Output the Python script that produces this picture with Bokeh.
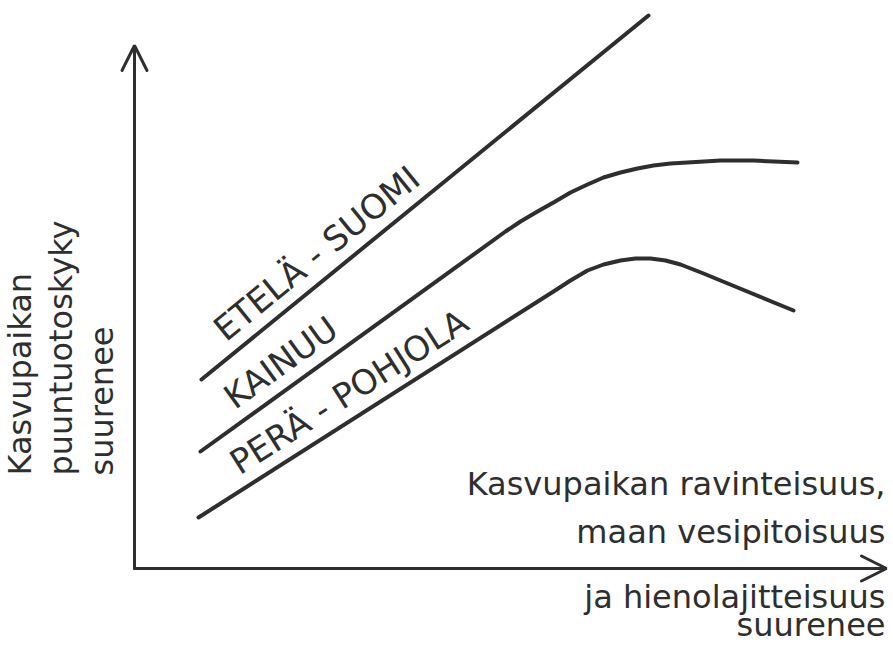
import math
from bokeh.plotting import figure
from bokeh.models import Range1d, Arrow, OpenHead
from bokeh.core.properties import value
from bokeh.embed import file_html
from bokeh.resources import INLINE

# ---- data (schematic units) ----
regions = ["ETELÄ - SUOMI", "KAINUU", "PERÄ - POHJOLA"]

etela_x = [67, 514]
etela_y = [189, 553]

kainuu_x = [66, 371, 386, 403, 419, 436, 453, 469, 486, 503, 519, 536, 553, 586, 619, 663]
kainuu_y = [117, 337, 347, 357, 366, 376, 384, 391, 396, 400, 403, 405, 406, 408, 408, 406]

pera_x = [64, 419, 436, 453, 469, 486, 501, 516, 531, 546, 569, 603, 659]
pera_y = [51, 277, 288, 298, 304, 308, 310, 310, 308, 304, 295, 281, 258]

y_title = ["Kasvupaikan", "puuntuotoskyky", "suurenee"]
x_title = ["Kasvupaikan ravinteisuus,", "maan vesipitoisuus",
           "ja hienolajitteisuus", "suurenee"]

# ---- style / layout ----
INK = "#2e2e2e"
FONT = "DejaVu Sans"
W, H = 893, 647
LBL_FS = 34
TTL_FS = 32
FIX = 0.42  # baseline correction of rendered text, in em


def up_shift(angle, fs):
    """shift of the anchor along the text's local 'up' direction"""
    d = FIX * fs
    return -math.sin(angle) * d, math.cos(angle) * d


p = figure(width=W, height=H, output_backend="svg", toolbar_location=None,
           x_range=Range1d(-134, 759), y_range=Range1d(-79, 568),
           x_axis_location=None, y_axis_location=None,
           min_border=0, outline_line_color=None, background_fill_color="white",
           border_fill_color="white")
p.grid.visible = False

# axes with open arrow heads
y_tip = 523
x_tip = 752
p.add_layout(Arrow(end=OpenHead(size=25, line_width=3, line_color=INK, line_cap="round"),
                   x_start=0, y_start=0, x_end=0, y_end=y_tip,
                   line_width=3, line_color=INK, line_cap="round"))
p.add_layout(Arrow(end=OpenHead(size=25, line_width=3, line_color=INK, line_cap="round"),
                   x_start=0, y_start=0, x_end=x_tip, y_end=0,
                   line_width=3, line_color=INK, line_cap="round"))

# curves
series = [(etela_x, etela_y), (kainuu_x, kainuu_y), (pera_x, pera_y)]
for xs, ys in series:
    p.line(xs, ys, line_width=4, line_color=INK, line_cap="round", line_join="round")

# rotated region labels along the straight first segment
label_cx = [198, 161, 228]
gap = 11
lx, ly, la = [], [], []
for (xs, ys), cx in zip(series, label_cx):
    th = math.atan2(ys[1] - ys[0], xs[1] - xs[0])
    cy = ys[0] + (cx - xs[0]) * (ys[1] - ys[0]) / (xs[1] - xs[0])
    dx, dy = up_shift(th, LBL_FS)
    lx.append(cx - math.sin(th) * gap + dx)
    ly.append(cy + math.cos(th) * gap + dy)
    la.append(th)
p.text(x=lx, y=ly, text=regions, angle=la, text_align="center",
       text_baseline="alphabetic", text_font=value(FONT),
       text_font_size=f"{LBL_FS}px", text_color=INK)

# y title (rotated, three lines)
a90 = math.pi / 2
dx90, dy90 = up_shift(a90, TTL_FS)
yt_x = [-101 + 41 * i + dx90 for i in range(len(y_title))]
p.text(x=yt_x, y=[93 + dy90] * len(y_title), text=y_title, angle=a90,
       text_align="left", text_baseline="alphabetic", text_font=value(FONT),
       text_font_size=f"{TTL_FS}px", text_color=INK)

# x title (right aligned, two lines above and two below the axis)
dx0, dy0 = up_shift(0.0, TTL_FS)
xt_y = [71 + dy0, 23 + dy0, -42 + dy0, -70 + dy0]
p.text(x=[751] * len(x_title), y=xt_y, text=x_title, text_align="right",
       text_baseline="alphabetic", text_font=value(FONT),
       text_font_size=f"{TTL_FS}px", text_color=INK)

open("out.html", "w").write(file_html(p, INLINE))
